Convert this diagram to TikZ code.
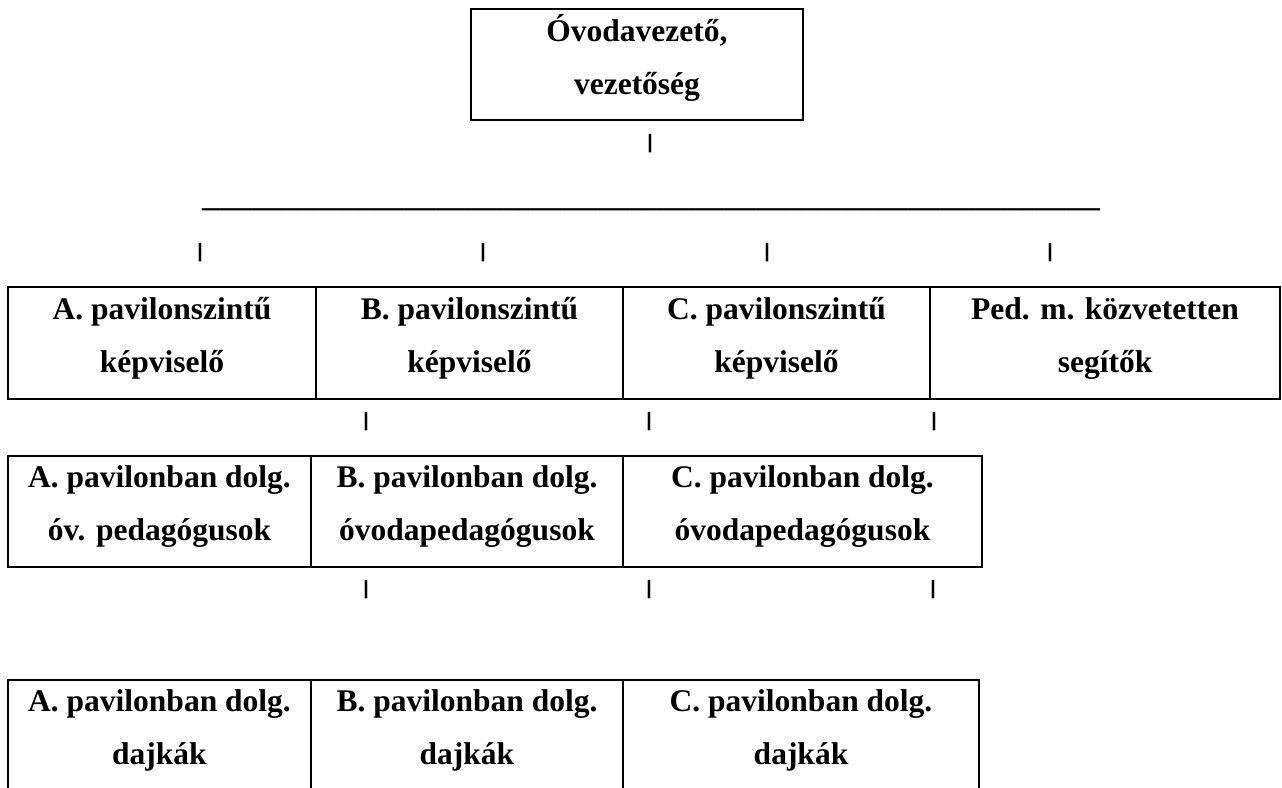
\documentclass[tikz,border=0pt]{standalone}
\usepackage{fontspec}
\setmainfont{Liberation Serif}
\newfontfamily\barfont{Liberation Sans}
\newcommand\ulinetext{\_\_\_\_\_\_\_\_\_\_\_\_\_\_\_\_\_\_\_\_\_\_\_\_\_\_\_\_\_\_\_\_\_\_\_\_\_\_\_\_\_\_\_\_\_\_\_\_\_\_\_\_\_\_\_\_\_}
\begin{document}
\begin{tikzpicture}[x=1pt,y=-1pt,
  cellbox/.style={draw=black, line width=2.8pt, inner sep=0pt, outer sep=0pt},
  lbl/.style={anchor=base, inner sep=0pt, font=\bfseries\fontsize{31.5}{31.5}\selectfont},
  bar/.style={inner sep=0pt, font=\barfont\bfseries\fontsize{19.5}{19.5}\selectfont},
  uline/.style={anchor=base west, inner sep=0pt, font=\bfseries\fontsize{31.5}{31.5}\selectfont}]
\useasboundingbox (0,0) rectangle (1282,787);
\clip (0,0) rectangle (1282,787);
\fill[white] (0,0) rectangle (1282,787);

% top box
\node[cellbox, minimum width=332pt, minimum height=111pt] (top) at (637,64.5) {};
\node[lbl] (topa) at (637,41) {Óvodavezető,};
\node[lbl] (topb) at (637,94) {vezetőség};
\node[bar] (b0) at (650,144) {|};

% horizontal underscore line
\node[uline] (hl) at (202,206) {\ulinetext};

% bars above row 1
\node[bar] (b1a) at (200,252.5) {|};
\node[bar] (b1b) at (483,252.5) {|};
\node[bar] (b1c) at (767,252.5) {|};
\node[bar] (b1d) at (1050,252.5) {|};

% row 1
\node[cellbox, minimum width=308pt, minimum height=112pt] (r1a) at (162,343) {};
\node[cellbox, minimum width=307pt, minimum height=112pt] (r1b) at (469.5,343) {};
\node[cellbox, minimum width=307pt, minimum height=112pt] (r1c) at (776.5,343) {};
\node[cellbox, minimum width=350pt, minimum height=112pt] (r1d) at (1105,343) {};
\node[lbl] (r1a1) at (162,319) {A. pavilonszintű};
\node[lbl] (r1a2) at (162,372) {képviselő};
\node[lbl] (r1b1) at (469.5,319) {B. pavilonszintű};
\node[lbl] (r1b2) at (469.5,372) {képviselő};
\node[lbl] (r1c1) at (776.5,319) {C. pavilonszintű};
\node[lbl] (r1c2) at (776.5,372) {képviselő};
\node[lbl] (r1d1) at (1105,319) {Ped. m. közvetetten};
\node[lbl] (r1d2) at (1105,372) {segítők};

% bars between row 1 and row 2
\node[bar] (b2a) at (366,421.5) {|};
\node[bar] (b2b) at (649,421.5) {|};
\node[bar] (b2c) at (934,421.5) {|};

% row 2
\node[cellbox, minimum width=303pt, minimum height=111pt] (r2a) at (159.5,511.5) {};
\node[cellbox, minimum width=312pt, minimum height=111pt] (r2b) at (467,511.5) {};
\node[cellbox, minimum width=359pt, minimum height=111pt] (r2c) at (802.5,511.5) {};
\node[lbl] (r2a1) at (159.5,487) {A. pavilonban dolg.};
\node[lbl] (r2a2) at (159.5,540) {óv. pedagógusok};
\node[lbl] (r2b1) at (467,487) {B. pavilonban dolg.};
\node[lbl] (r2b2) at (467,540) {óvodapedagógusok};
\node[lbl] (r2c1) at (802.5,487) {C. pavilonban dolg.};
\node[lbl] (r2c2) at (802.5,540) {óvodapedagógusok};

% bars between row 2 and row 3
\node[bar] (b3a) at (366,590) {|};
\node[bar] (b3b) at (649,590) {|};
\node[bar] (b3c) at (933,590) {|};

% row 3 (continues below the picture)
\node[cellbox, minimum width=303pt, minimum height=130pt] (r3a) at (159.5,745) {};
\node[cellbox, minimum width=312pt, minimum height=130pt] (r3b) at (467,745) {};
\node[cellbox, minimum width=356pt, minimum height=130pt] (r3c) at (801,745) {};
\node[lbl] (r3a1) at (159.5,711) {A. pavilonban dolg.};
\node[lbl] (r3a2) at (159.5,764) {dajkák};
\node[lbl] (r3b1) at (467,711) {B. pavilonban dolg.};
\node[lbl] (r3b2) at (467,764) {dajkák};
\node[lbl] (r3c1) at (801,711) {C. pavilonban dolg.};
\node[lbl] (r3c2) at (801,764) {dajkák};
\end{tikzpicture}
\end{document}
